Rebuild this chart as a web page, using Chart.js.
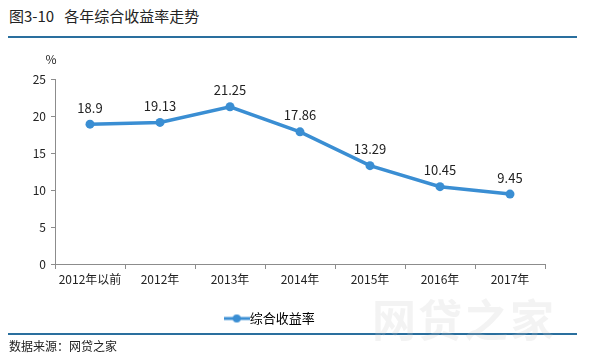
<!DOCTYPE html>
<html>
<head>
<meta charset="utf-8">
<script src="https://cdn.jsdelivr.net/npm/chart.js@4"></script>
<style>
    body { margin: 0; background: #fff; font-family: "Noto Sans CJK SC", sans-serif; }
    #wrap { position: relative; width: 590px; height: 360px; overflow: hidden; }
    #title { position: absolute; left: 9px; top: 5px; font-size: 15px; color: #222; }
    .rule { position: absolute; left: 8px; width: 569px; height: 2px; background: #2a6f9e; }
    #source { position: absolute; left: 9px; top: 337px; font-size: 12px; color: #222; }
    #mark { position: absolute; left: 372px; top: 286px; font-size: 44px; font-weight: bold;
            color: rgba(200, 200, 200, 0.22); letter-spacing: 2px; }
    canvas { position: absolute; left: 0; top: 0; }
</style>
</head>
<body>
<div id="wrap">
    <div id="title">图3-10&nbsp;&nbsp;&nbsp;各年综合收益率走势</div>
    <div class="rule" style="top:36px"></div>
    <canvas id="chart" width="590" height="360"></canvas>
    <div class="rule" style="top:333px"></div>
    <div id="source">数据来源：网贷之家</div>
    <div id="mark">网贷之家</div>
</div>
<script>
// Chart data
const categories = ['2012年以前', '2012年', '2013年', '2014年', '2015年', '2016年', '2017年'];
const seriesName = '综合收益率';
const yieldValues = [18.9, 19.13, 21.25, 17.86, 13.29, 10.45, 9.45];
const yTicks = [0, 5, 10, 15, 20, 25];

const lineColor = '#3a8ed3';
const axisColor = '#8c8c8c';
const fontFamily = '"Noto Sans CJK SC", "Noto Sans", sans-serif';

// Legend marker: line with dot in the middle
function legendMarker() {
    const c = document.createElement('canvas');
    c.width = 26;
    c.height = 10;
    const g = c.getContext('2d');
    g.strokeStyle = lineColor;
    g.lineWidth = 3;
    g.beginPath();
    g.moveTo(0, 5);
    g.lineTo(26, 5);
    g.stroke();
    g.fillStyle = lineColor;
    g.beginPath();
    g.arc(13, 5, 4, 0, Math.PI * 2);
    g.fill();
    return c;
}

// Value labels above points and the % unit above the y axis
const labelPlugin = {
    id: 'labels',
    afterDatasetsDraw(chart) {
        const ctx = chart.ctx;
        const meta = chart.getDatasetMeta(0);
        ctx.save();
        ctx.font = '13px ' + fontFamily;
        ctx.fillStyle = '#222';
        ctx.textAlign = 'center';
        ctx.textBaseline = 'bottom';
        meta.data.forEach((pt, i) => {
            ctx.fillText(String(yieldValues[i]), pt.x, pt.y - 10);
        });
        const y = chart.scales.y;
        ctx.font = '12px ' + fontFamily;
        ctx.textBaseline = 'middle';
        ctx.fillText('%', y.right - 4, y.top - 20);
        ctx.restore();
    }
};

const ctx = document.getElementById('chart').getContext('2d');
new Chart(ctx, {
    type: 'line',
    data: {
        labels: categories,
        datasets: [{
            label: seriesName,
            data: yieldValues,
            borderColor: lineColor,
            backgroundColor: lineColor,
            borderWidth: 3.5,
            pointRadius: 4.5,
            pointBackgroundColor: lineColor,
            pointBorderWidth: 0,
            tension: 0
        }]
    },
    options: {
        responsive: false,
        animation: false,
        layout: {
            padding: { left: 0, right: 45, top: 79, bottom: 25 }
        },
        scales: {
            x: {
                offset: true,
                grid: {
                    offset: true,
                    drawOnChartArea: false,
                    drawTicks: true,
                    tickLength: 5,
                    color: axisColor
                },
                border: { color: axisColor, width: 1 },
                ticks: {
                    color: '#222',
                    padding: 3,
                    maxRotation: 0,
                    font: { size: 12, family: fontFamily }
                },
                afterFit(scale) { scale.height = 38; }
            },
            y: {
                min: 0,
                max: 25,
                afterBuildTicks(scale) { scale.ticks = yTicks.map(v => ({ value: v })); },
                grid: {
                    drawOnChartArea: false,
                    drawTicks: true,
                    tickLength: 4,
                    color: axisColor
                },
                border: { color: axisColor, width: 1 },
                ticks: {
                    color: '#222',
                    padding: 5,
                    font: { size: 12, family: fontFamily }
                },
                afterFit(scale) { scale.width = 55; }
            }
        },
        plugins: {
            legend: {
                position: 'bottom',
                labels: {
                    color: '#222',
                    usePointStyle: true,
                    font: { size: 13, family: fontFamily },
                    padding: 10,
                    generateLabels(chart) {
                        return [{
                            text: seriesName,
                            pointStyle: legendMarker(),
                            fillStyle: lineColor,
                            strokeStyle: lineColor,
                            lineWidth: 0,
                            datasetIndex: 0
                        }];
                    }
                }
            },
            tooltip: { enabled: false }
        }
    },
    plugins: [labelPlugin]
});
</script>
</body>
</html>
